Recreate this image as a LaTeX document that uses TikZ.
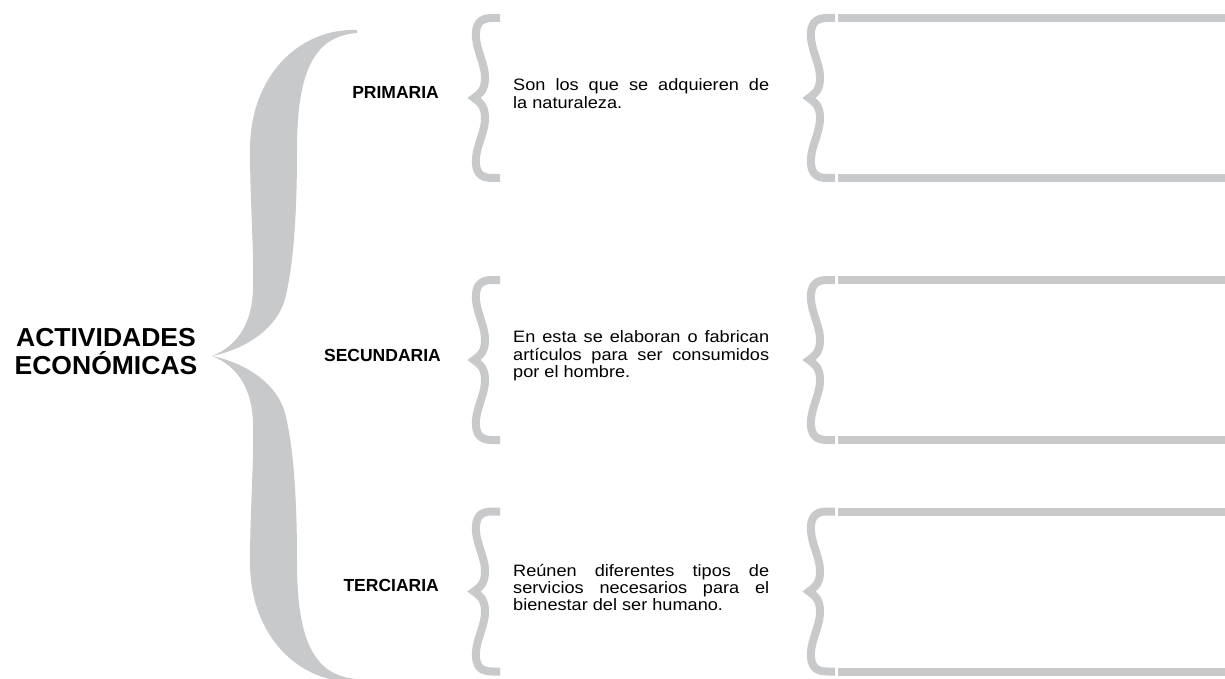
\documentclass[tikz,border=0pt]{standalone}
\usepackage{fontspec}
\setmainfont{Liberation Sans}
\newfontfamily\titlefam[FakeStretch=1.02]{Liberation Sans}
\newfontfamily\bodyfam[FakeStretch=1.1]{Liberation Sans}
\definecolor{bracegray}{RGB}{200,201,203}
\tikzset{
  bracestroke/.style={draw=bracegray, line width=8pt, line join=miter, line cap=butt},
  barline/.style={draw=bracegray, line width=8pt, line cap=butt},
  smbrace/.pic={
    \draw[bracestroke] (0,-80) -- (-8,-80)
      .. controls (-20,-80) and (-25,-74) .. (-24,-60)
      .. controls (-23,-46) and (-14,-32) .. (-15,-18)
      .. controls (-16,-8) and (-18,-6) .. (-26,0)
      .. controls (-18,6) and (-16,8) .. (-15,18)
      .. controls (-14,32) and (-23,46) .. (-24,60)
      .. controls (-25,74) and (-20,80) .. (-8,80) -- (0,80);
  },
  titletext/.style={font=\titlefam\bfseries\fontsize{26}{28}\selectfont, inner sep=0pt, anchor=base},
  labeltext/.style={font=\bfseries\fontsize{17.5}{20}\selectfont, inner sep=0pt, anchor=base east},
  bodytext/.style={font=\bodyfam\fontsize{16.5}{17.3}\selectfont, text width=256pt, align=justify, inner sep=0pt, anchor=base west}
}
\begin{document}
\begin{tikzpicture}[x=1pt, y=-1pt]
\useasboundingbox (0,0) rectangle (1225,679);
\fill[white] (0,0) rectangle (1225,679);
\begin{scope}
\clip (0,0) rectangle (1225,679);
% big brace
\fill[bracegray] (357,30) .. controls (300,28) and (250,75) .. (250,150)
  .. controls (250,200) and (254,250) .. (253,290)
  .. controls (252,320) and (240,345) .. (212,356)
  .. controls (250,348) and (280,325) .. (286,295)
  .. controls (294,260) and (297,210) .. (297,150)
  .. controls (297,80) and (310,36) .. (357,33) -- cycle;
\fill[bracegray] (357,682) .. controls (300,684) and (250,637) .. (250,562)
  .. controls (250,512) and (254,462) .. (253,422)
  .. controls (252,392) and (240,367) .. (212,356)
  .. controls (250,364) and (280,387) .. (286,417)
  .. controls (294,452) and (297,502) .. (297,562)
  .. controls (297,632) and (310,676) .. (357,679) -- cycle;
% middle braces
\pic at (500,98) {smbrace};
\pic at (500,360) {smbrace};
\pic at (500,591.5) {smbrace};
% right braces and boxes
\pic at (835,98) {smbrace};
\pic at (835,360) {smbrace};
\pic at (835,591.5) {smbrace};
\coordinate (b1a) at (837.5,18);  \coordinate (b1b) at (1230,18);
\coordinate (b1c) at (837.5,178); \coordinate (b1d) at (1230,178);
\coordinate (b2a) at (837.5,280); \coordinate (b2b) at (1230,280);
\coordinate (b2c) at (837.5,440); \coordinate (b2d) at (1230,440);
\coordinate (b3a) at (837.5,511.5); \coordinate (b3b) at (1230,511.5);
\coordinate (b3c) at (837.5,671.5); \coordinate (b3d) at (1230,671.5);
\draw[barline] (b1a) -- (b1b);
\draw[barline] (b1c) -- (b1d);
\draw[barline] (b2a) -- (b2b);
\draw[barline] (b2c) -- (b2d);
\draw[barline] (b3a) -- (b3b);
\draw[barline] (b3c) -- (b3d);
\end{scope}
% title
\node[titletext] (t1) at (106,346.7) {ACTIVIDADES};
\node[titletext] (t2) at (106,374) {ECONÓMICAS};
% labels
\node[labeltext] (prim) at (439,99) {PRIMARIA};
\node[labeltext] (sec) at (441,361) {SECUNDARIA};
\node[labeltext] (ter) at (439,591.7) {TERCIARIA};
% descriptions
\node[bodytext] (d1) at (513,90.8) {\hyphenpenalty=10000 Son los que se adquieren de\linebreak la naturaleza.};
\node[bodytext] (d2) at (513,342.7) {\hyphenpenalty=10000 En esta se elaboran o fabrican\linebreak artículos para ser consumidos\linebreak por el hombre.};
\node[bodytext] (d3) at (513,576) {\hyphenpenalty=10000 Reúnen diferentes tipos de\linebreak servicios necesarios para el\linebreak bienestar del ser humano.};
\end{tikzpicture}
\end{document}
